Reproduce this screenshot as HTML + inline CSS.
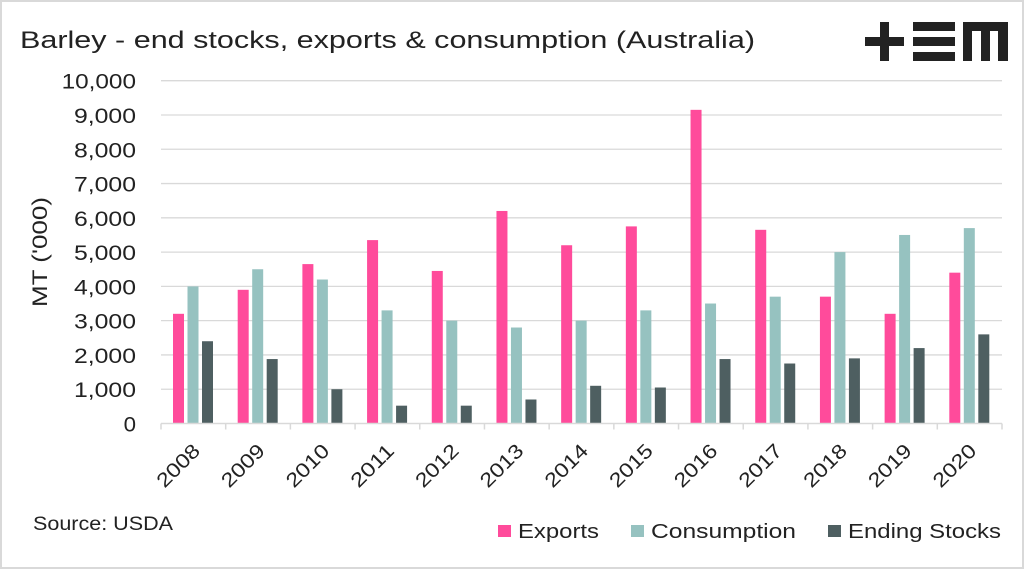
<!DOCTYPE html>
<html><head><meta charset="utf-8"><style>
body{margin:0;background:#fff;}
svg text{font-family:"Liberation Sans",sans-serif;fill:#222;}
</style></head><body>
<svg width="1024" height="569" viewBox="0 0 1024 569">
<rect x="1" y="1" width="1022" height="567" fill="#fff" stroke="#d9d9d9" stroke-width="2"/>
<text x="20" y="48" font-size="24" textLength="735" lengthAdjust="spacingAndGlyphs">Barley - end stocks, exports &amp; consumption (Australia)</text>
<g fill="#222">
<rect x="865" y="37" width="39" height="9"/><rect x="880" y="22" width="9" height="39"/>
<rect x="913" y="22" width="42" height="9"/><rect x="913" y="37" width="42" height="9"/><rect x="913" y="52" width="42" height="9"/>
<path d="M963 22 H1008 V61 H998 V31 H990 V61 H981 V31 H972 V61 H963 Z"/>
</g>
<g id="grid"></g><g id="bars"></g><g id="axes"></g>
<text transform="translate(47,252) rotate(-90)" text-anchor="middle" font-size="21" textLength="110" lengthAdjust="spacingAndGlyphs">MT ('000)</text>
<text x="33" y="530" font-size="19" textLength="140" lengthAdjust="spacingAndGlyphs">Source: USDA</text>
<g>
<rect x="498" y="525" width="13" height="12" fill="#ff4b9b"/>
<text x="518" y="538" font-size="20" textLength="81" lengthAdjust="spacingAndGlyphs">Exports</text>
<rect x="631" y="525" width="13" height="12" fill="#96c2c0"/>
<text x="651" y="538" font-size="20" textLength="145" lengthAdjust="spacingAndGlyphs">Consumption</text>
<rect x="828" y="525" width="13" height="12" fill="#4e5f61"/>
<text x="848" y="538" font-size="20" textLength="153" lengthAdjust="spacingAndGlyphs">Ending Stocks</text>
</g>
</svg>
<script>
const categories=["2008","2009","2010","2011","2012","2013","2014","2015","2016","2017","2018","2019","2020"];
const exportsVals=[3200,3900,4650,5350,4450,6200,5200,5750,9150,5650,3700,3200,4400];
const consumptionVals=[4000,4500,4200,3300,3000,2800,3000,3300,3500,3700,5000,5500,5700];
const stocksVals=[2400,1880,1000,520,520,700,1100,1050,1880,1750,1900,2200,2600];
const yTicks=[0,1000,2000,3000,4000,5000,6000,7000,8000,9000,10000];
const NS="http://www.w3.org/2000/svg";
const x0=161,x1=1002,yBase=423.5,yTop=80.7,yMax=10000;
const bw=(x1-x0)/categories.length;
function y(v){return yBase-(yBase-yTop)*v/yMax;}
function xc(i){return x0+bw*i;}
function mk(tag,attrs,parent){const e=document.createElementNS(NS,tag);for(const k in attrs)e.setAttribute(k,attrs[k]);parent.appendChild(e);return e;}
const grid=document.getElementById('grid'),bars=document.getElementById('bars'),axes=document.getElementById('axes');
yTicks.forEach(t=>{
  if(t>0){const l=mk('line',{x1:x0,x2:x1,y1:y(t),y2:y(t),stroke:'#d9d9d9','stroke-width':1.3},grid);
  
  }
  const s=t.toLocaleString('en-US');
  const tx=mk('text',{x:136,y:y(t)+8,'text-anchor':'end','font-size':21,textLength:s.length*12.4,lengthAdjust:'spacingAndGlyphs'},axes);
  tx.textContent=s;
  
  
});
const series=[[exportsVals,'#ff4b9b','exports'],[consumptionVals,'#96c2c0','consumption'],[stocksVals,'#4e5f61','stocks']];
categories.forEach((c,i)=>{
  series.forEach((s,j)=>{
    const v=s[0][i];
    const r=mk('rect',{x:xc(i)+12+j*14.5,y:y(v),width:11,height:yBase-y(v),fill:s[1]},bars);
    
    
  });
  const cx=xc(i)+bw/2;
  const tx=mk('text',{x:0,y:0,'text-anchor':'end','font-size':20,textLength:52,lengthAdjust:'spacingAndGlyphs',transform:`translate(${cx+8},${452}) rotate(-45)`},axes);
  tx.textContent=c;
  
  
});
const ax=mk('line',{x1:x0,x2:x1,y1:yBase,y2:yBase,stroke:'#d9d9d9','stroke-width':1.5},axes);


for(let i=0;i<=categories.length;i++){
  const t=mk('line',{x1:xc(i),x2:xc(i),y1:yBase,y2:yBase+6,stroke:'#d9d9d9','stroke-width':1.5},axes);
  
  
}
</script>
</body></html>
